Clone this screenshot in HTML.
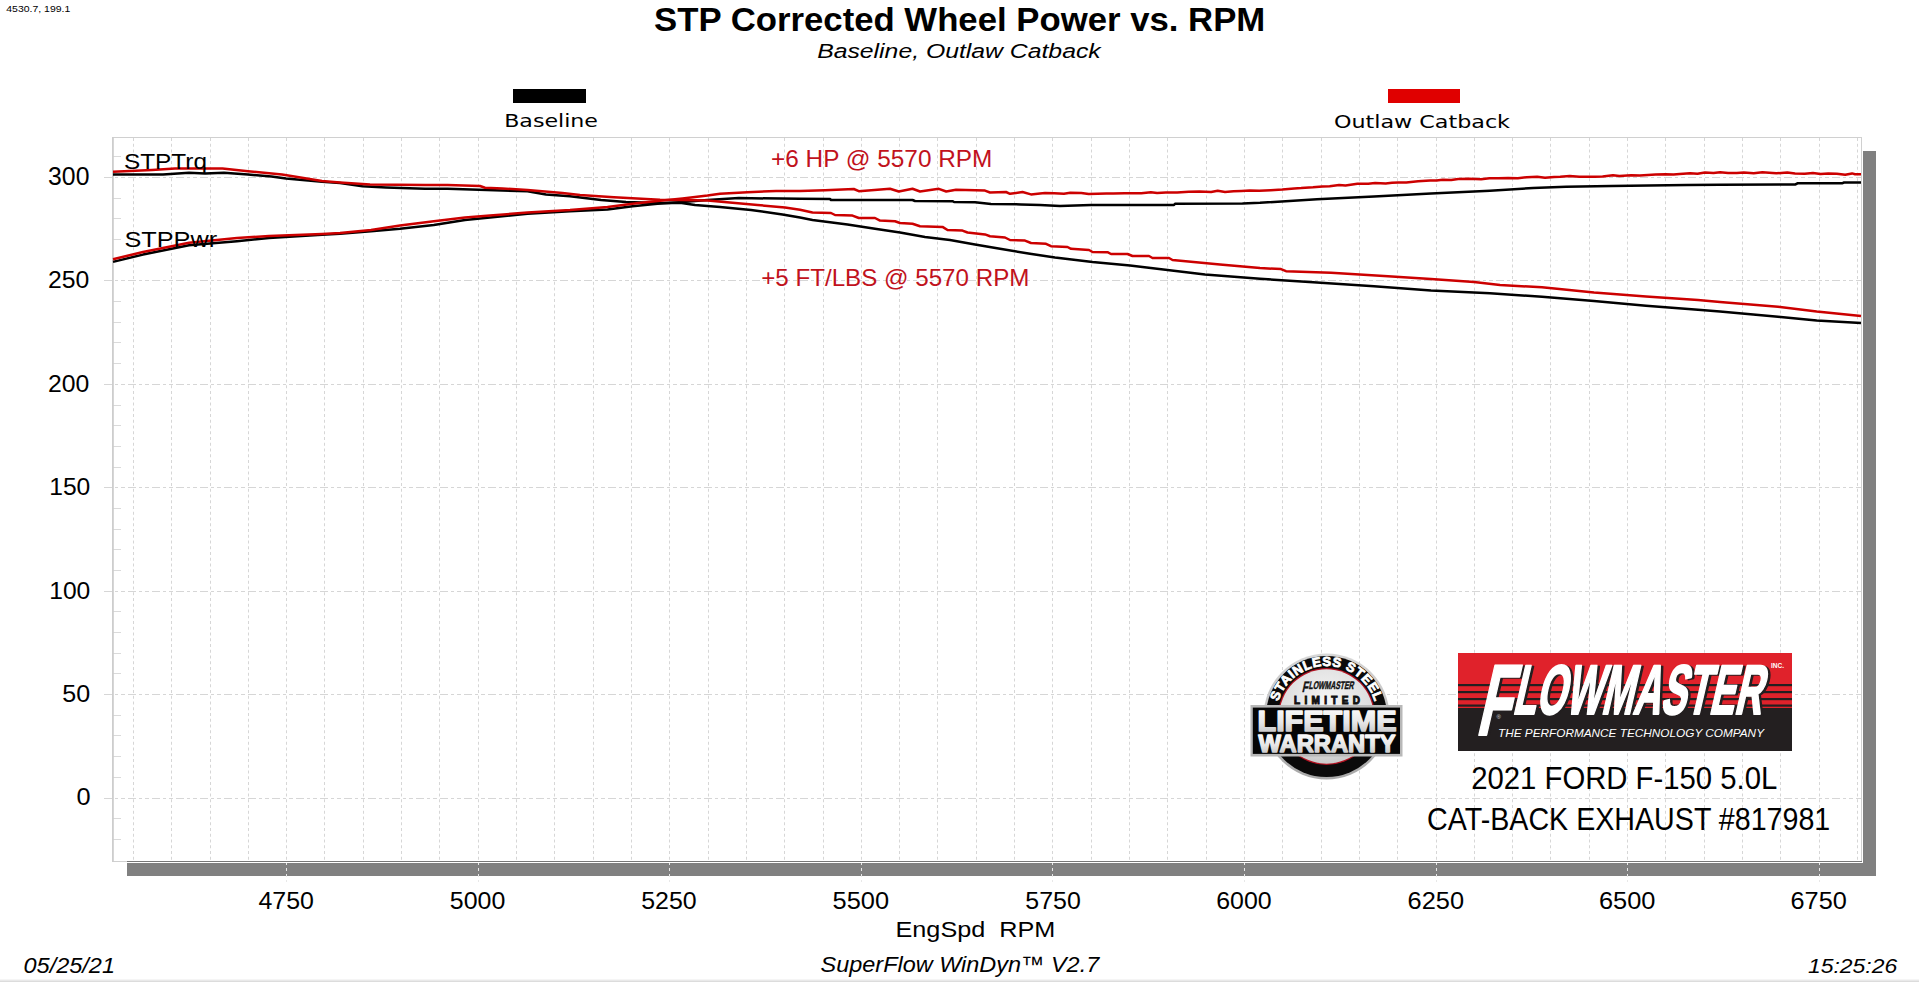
<!DOCTYPE html><html><head><meta charset="utf-8"><title>STP Corrected Wheel Power vs. RPM</title>
<style>html,body{margin:0;padding:0;background:#fff;overflow:hidden}svg{display:block}</style></head><body>
<svg width="1919" height="982" viewBox="0 0 1919 982">
<defs>
<linearGradient id="silver" x1="0" y1="0" x2="0" y2="1"><stop offset="0" stop-color="#ffffff"/><stop offset="0.55" stop-color="#e6e6e6"/><stop offset="1" stop-color="#bdbdbd"/></linearGradient>
<linearGradient id="silverh" x1="0" y1="0" x2="1" y2="0"><stop offset="0" stop-color="#f4f4f4"/><stop offset="0.5" stop-color="#e2e2e2"/><stop offset="1" stop-color="#f6f6f6"/></linearGradient>
<radialGradient id="disc" cx="0.5" cy="0.35" r="0.7"><stop offset="0" stop-color="#f6f6f6"/><stop offset="0.7" stop-color="#dcdcdc"/><stop offset="1" stop-color="#c4c4c4"/></radialGradient>
<linearGradient id="ring" x1="0" y1="0" x2="0" y2="1"><stop offset="0" stop-color="#d8d8d8"/><stop offset="1" stop-color="#a8a8a8"/></linearGradient>
</defs>
<rect x="0" y="0" width="1919" height="982" fill="#fff"/>
<rect x="0" y="979" width="1919" height="1" fill="#f5f5f5"/><rect x="0" y="980" width="1919" height="1" fill="#e9e9e9"/><rect x="0" y="981" width="1919" height="1" fill="#dcdcdc"/>
<rect x="127" y="151" width="1749" height="725" fill="#808080"/>
<rect x="112" y="137" width="1750" height="725" fill="#fff"/>
<path d="M133.5 138V861 M171.5 138V861 M210.5 138V861 M248.5 138V861 M286.5 138V861 M324.5 138V861 M363.5 138V861 M401.5 138V861 M439.5 138V861 M478.5 138V861 M516.5 138V861 M554.5 138V861 M593.5 138V861 M631.5 138V861 M669.5 138V861 M708.5 138V861 M746.5 138V861 M784.5 138V861 M823.5 138V861 M861.5 138V861 M899.5 138V861 M937.5 138V861 M976.5 138V861 M1014.5 138V861 M1052.5 138V861 M1091.5 138V861 M1129.5 138V861 M1167.5 138V861 M1206.5 138V861 M1244.5 138V861 M1282.5 138V861 M1321.5 138V861 M1359.5 138V861 M1397.5 138V861 M1436.5 138V861 M1474.5 138V861 M1512.5 138V861 M1550.5 138V861 M1589.5 138V861 M1627.5 138V861 M1665.5 138V861 M1704.5 138V861 M1742.5 138V861 M1780.5 138V861 M1819.5 138V861 M1857.5 138V861" stroke="#d6d6d6" stroke-width="1" stroke-dasharray="3 2.75" fill="none"/>
<path d="M104 798.5H1861 M104 694.5H1861 M104 591.5H1861 M104 487.5H1861 M104 384.5H1861 M104 280.5H1861 M104 177.5H1861" stroke="#d6d6d6" stroke-width="1" stroke-dasharray="8 3 3 3 4 3" fill="none"/>
<path d="M113 839.5H121 M113 818.5H121 M113 777.5H121 M113 756.5H121 M113 735.5H121 M113 715.5H121 M113 673.5H121 M113 653.5H121 M113 632.5H121 M113 611.5H121 M113 570.5H121 M113 549.5H121 M113 529.5H121 M113 508.5H121 M113 467.5H121 M113 446.5H121 M113 425.5H121 M113 405.5H121 M113 363.5H121 M113 342.5H121 M113 322.5H121 M113 301.5H121 M113 260.5H121 M113 239.5H121 M113 218.5H121 M113 198.5H121 M113 156.5H121" stroke="#dadada" stroke-width="1" fill="none"/>
<path d="M286.5 862V882 M478.5 862V882 M669.5 862V882 M861.5 862V882 M1052.5 862V882 M1244.5 862V882 M1436.5 862V882 M1627.5 862V882 M1819.5 862V882" stroke="#e8e8e8" stroke-width="1" stroke-dasharray="3 3" fill="none"/>
<rect x="112.5" y="137.5" width="1749" height="724" fill="none" stroke="#d0d0d0" stroke-width="1"/>
<rect x="127" y="861" width="1735" height="1" fill="#777"/><rect x="127" y="862" width="1736" height="1" fill="#fff"/><rect x="1862" y="151" width="1" height="712" fill="#fff"/>
<path d="M113 137V862" stroke="#cccccc" stroke-width="1.6"/>
<polyline points="113.0,174.5 163.0,174.5 189.0,172.8 205.0,173.6 224.0,172.8 248.0,174.5 271.5,176.5 286.0,178.5 322.0,181.8 340.0,183.1 362.5,186.2 386.0,187.5 425.0,188.8 447.5,188.8 478.8,189.8 502.5,190.6 527.5,191.2 546.0,194.4 570.0,196.2 601.0,200.0 626.0,201.9 657.5,203.0 680.0,202.8 695.0,205.0 720.0,206.9 751.0,210.0 782.5,214.4 800.0,217.5 812.5,220.0 847.5,224.4 875.0,228.8 900.0,232.5 925.0,236.9 950.0,240.0 975.0,244.4 1000.0,248.8 1030.0,253.8 1055.0,257.5 1092.5,262.0 1130.0,265.6 1167.5,270.0 1205.0,274.4 1260.0,278.8 1317.0,282.6 1374.0,286.2 1431.0,290.5 1490.0,293.3 1542.0,296.8 1594.0,301.1 1646.0,305.8 1698.0,309.8 1720.0,311.5 1778.0,316.8 1816.7,320.6 1861.0,323.1" fill="none" stroke="#000" stroke-width="2.5" stroke-linejoin="round"/>
<polyline points="113.0,261.9 143.0,254.6 189.0,245.3 237.0,241.3 269.0,238.0 322.0,234.7 340.0,233.8 371.0,231.2 400.0,228.8 433.8,225.0 465.0,220.0 490.0,217.5 527.5,213.8 570.0,211.2 607.5,209.4 632.5,206.2 657.5,203.8 682.5,201.9 707.5,200.0 738.8,198.1 800.0,198.8 830.0,199.0 831.0,200.0 912.5,200.0 915.0,201.0 952.5,201.2 954.0,202.0 975.0,202.2 991.0,204.0 1021.0,204.4 1040.0,205.0 1060.0,206.0 1091.0,205.0 1174.0,205.0 1175.0,203.8 1242.5,203.5 1260.0,202.8 1317.0,199.2 1374.0,196.4 1431.0,193.5 1490.0,190.8 1533.0,188.0 1566.0,186.8 1611.0,186.0 1687.0,185.1 1720.0,184.8 1795.5,184.4 1797.4,183.3 1842.0,183.3 1844.0,182.5 1861.0,182.5" fill="none" stroke="#000" stroke-width="2.5" stroke-linejoin="round"/>
<polyline points="113.0,171.8 152.0,169.9 175.0,168.5 222.5,168.5 248.0,171.2 282.0,174.5 322.0,181.0 340.0,182.5 370.0,184.4 425.0,185.0 447.5,185.0 480.0,186.0 485.0,187.8 502.5,188.5 527.5,190.0 562.5,193.0 580.0,195.0 614.0,197.2 660.0,199.8 682.5,200.0 707.5,200.6 732.5,202.8 757.5,205.0 785.0,207.5 800.0,209.8 812.5,212.5 831.0,213.0 835.0,215.0 852.5,215.6 858.8,218.0 875.0,218.0 880.0,220.6 895.0,221.2 900.0,223.0 912.5,223.8 920.0,226.2 942.5,226.9 947.5,230.0 962.5,230.6 967.5,232.5 985.0,234.4 990.0,236.2 1005.0,237.5 1010.0,240.0 1025.0,240.6 1031.0,243.0 1046.0,243.8 1051.0,246.2 1067.5,247.0 1071.0,248.8 1089.0,250.0 1092.5,252.0 1107.5,252.2 1111.0,254.0 1127.5,254.0 1132.5,256.0 1149.0,256.0 1152.5,258.0 1169.0,258.0 1172.5,260.0 1220.0,264.5 1260.0,268.0 1281.0,269.1 1286.0,271.2 1331.0,272.7 1388.0,276.2 1431.0,279.0 1474.0,282.0 1500.0,285.0 1542.0,287.3 1594.0,292.5 1646.0,296.5 1698.0,300.0 1720.0,301.9 1778.0,306.7 1816.7,311.5 1861.0,316.0" fill="none" stroke="#cc0000" stroke-width="2.5" stroke-linejoin="round"/>
<polyline points="113.0,259.2 143.0,252.0 189.0,242.7 237.0,238.0 269.0,236.0 322.0,234.0 340.0,233.0 371.0,230.0 400.0,225.6 433.8,221.2 465.0,217.5 490.0,215.6 527.5,212.5 570.0,210.0 607.5,206.9 632.5,203.8 657.5,201.0 682.5,198.5 707.5,195.6 720.0,193.8 747.5,192.2 776.0,191.0 800.0,191.0 825.0,190.2 853.8,189.0 858.8,191.2 890.0,188.8 898.8,191.5 912.5,188.8 920.0,191.5 938.8,188.8 946.2,191.5 956.0,189.8 985.0,190.6 990.0,192.5 1006.0,192.0 1010.0,193.8 1022.5,192.0 1031.0,194.4 1040.0,193.5 1045.0,193.1 1054.3,193.3 1063.9,193.7 1070.3,192.8 1081.3,193.1 1088.7,194.1 1097.5,193.8 1106.4,193.5 1113.3,193.4 1124.5,193.2 1135.0,193.2 1141.3,193.2 1150.9,192.3 1157.1,193.0 1165.9,192.6 1177.2,192.4 1188.7,191.7 1199.5,191.5 1211.1,192.0 1217.7,190.8 1225.0,191.9 1233.6,191.3 1241.4,191.0 1249.7,190.6 1259.3,190.8 1270.7,190.2 1282.3,189.6 1294.2,188.4 1301.2,188.1 1313.0,187.3 1322.4,186.4 1329.7,186.3 1339.1,185.0 1345.5,185.5 1357.4,183.7 1368.2,183.7 1375.1,183.1 1385.7,183.5 1392.0,182.8 1398.3,182.6 1406.3,182.5 1418.1,181.3 1430.1,180.5 1436.6,180.6 1442.8,179.7 1451.2,180.0 1458.2,178.9 1469.4,178.8 1481.1,179.2 1489.4,178.2 1498.5,178.2 1508.1,177.9 1517.8,178.2 1526.8,177.2 1537.2,176.7 1545.0,177.7 1554.1,177.0 1560.2,176.7 1569.7,176.0 1579.3,176.8 1585.7,176.8 1594.5,176.8 1602.6,176.6 1613.0,175.3 1619.4,176.1 1631.2,175.2 1639.9,175.5 1647.8,174.9 1655.7,174.6 1665.3,174.2 1673.6,174.5 1679.7,174.0 1690.1,173.2 1697.5,173.7 1704.9,172.5 1713.5,173.0 1720.1,172.2 1728.1,173.0 1736.8,173.1 1743.8,172.4 1753.7,173.3 1762.4,172.3 1769.1,172.8 1776.3,173.3 1787.3,172.5 1795.0,173.6 1804.8,173.7 1812.9,172.9 1820.6,174.0 1828.3,173.5 1836.8,173.7 1845.2,174.7 1852.1,173.4 1855.0,174.2 1861.0,174.2" fill="none" stroke="#cc0000" stroke-width="2.5" stroke-linejoin="round"/>
<text x="6.3" y="11.7" font-family="'Liberation Sans', Arial, Helvetica, sans-serif" font-size="9.77" font-weight="normal" font-style="normal" fill="#000" textLength="64.0" lengthAdjust="spacingAndGlyphs">4530.7, 199.1</text>
<text x="654.1" y="30.5" font-family="'Liberation Sans', Arial, Helvetica, sans-serif" font-size="33.37" font-weight="bold" font-style="normal" fill="#000" textLength="611.2" lengthAdjust="spacingAndGlyphs">STP Corrected Wheel Power vs. RPM</text>
<text x="817.2" y="58.0" font-family="'Liberation Sans', Arial, Helvetica, sans-serif" font-size="19.98" font-weight="normal" font-style="italic" fill="#000" textLength="283.5" lengthAdjust="spacingAndGlyphs">Baseline, Outlaw Catback</text>
<text x="504.2" y="126.6" font-family="'DejaVu Sans', 'Liberation Sans', sans-serif" font-size="18.43" font-weight="normal" font-style="normal" fill="#000" textLength="93.8" lengthAdjust="spacingAndGlyphs">Baseline</text>
<text x="1334.0" y="128.0" font-family="'DejaVu Sans', 'Liberation Sans', sans-serif" font-size="17.81" font-weight="normal" font-style="normal" fill="#000" textLength="176.0" lengthAdjust="spacingAndGlyphs">Outlaw Catback</text>
<text x="48.1" y="184.6" font-family="'Liberation Sans', Arial, Helvetica, sans-serif" font-size="25.42" font-weight="normal" font-style="normal" fill="#000" textLength="41.3" lengthAdjust="spacingAndGlyphs">300</text>
<text x="48.1" y="287.9" font-family="'Liberation Sans', Arial, Helvetica, sans-serif" font-size="23.37" font-weight="normal" font-style="normal" fill="#000" textLength="41.3" lengthAdjust="spacingAndGlyphs">250</text>
<text x="48.1" y="391.5" font-family="'Liberation Sans', Arial, Helvetica, sans-serif" font-size="23.37" font-weight="normal" font-style="normal" fill="#000" textLength="41.3" lengthAdjust="spacingAndGlyphs">200</text>
<text x="49.2" y="495.1" font-family="'Liberation Sans', Arial, Helvetica, sans-serif" font-size="23.49" font-weight="normal" font-style="normal" fill="#000" textLength="41.1" lengthAdjust="spacingAndGlyphs">150</text>
<text x="49.2" y="598.8" font-family="'Liberation Sans', Arial, Helvetica, sans-serif" font-size="23.49" font-weight="normal" font-style="normal" fill="#000" textLength="41.1" lengthAdjust="spacingAndGlyphs">100</text>
<text x="62.2" y="702.0" font-family="'Liberation Sans', Arial, Helvetica, sans-serif" font-size="23.61" font-weight="normal" font-style="normal" fill="#000" textLength="27.9" lengthAdjust="spacingAndGlyphs">50</text>
<text x="76.6" y="805.0" font-family="'Liberation Sans', Arial, Helvetica, sans-serif" font-size="23.05" font-weight="normal" font-style="normal" fill="#000" textLength="14.1" lengthAdjust="spacingAndGlyphs">0</text>
<text x="258.5" y="909.2" font-family="'Liberation Sans', Arial, Helvetica, sans-serif" font-size="23.54" font-weight="normal" font-style="normal" fill="#000" textLength="55.5" lengthAdjust="spacingAndGlyphs">4750</text>
<text x="449.8" y="909.2" font-family="'Liberation Sans', Arial, Helvetica, sans-serif" font-size="23.54" font-weight="normal" font-style="normal" fill="#000" textLength="55.5" lengthAdjust="spacingAndGlyphs">5000</text>
<text x="641.2" y="909.2" font-family="'Liberation Sans', Arial, Helvetica, sans-serif" font-size="23.54" font-weight="normal" font-style="normal" fill="#000" textLength="55.5" lengthAdjust="spacingAndGlyphs">5250</text>
<text x="832.6" y="909.2" font-family="'Liberation Sans', Arial, Helvetica, sans-serif" font-size="23.54" font-weight="normal" font-style="normal" fill="#000" textLength="56.5" lengthAdjust="spacingAndGlyphs">5500</text>
<text x="1025.3" y="909.2" font-family="'Liberation Sans', Arial, Helvetica, sans-serif" font-size="23.54" font-weight="normal" font-style="normal" fill="#000" textLength="55.5" lengthAdjust="spacingAndGlyphs">5750</text>
<text x="1216.2" y="909.2" font-family="'Liberation Sans', Arial, Helvetica, sans-serif" font-size="23.54" font-weight="normal" font-style="normal" fill="#000" textLength="55.5" lengthAdjust="spacingAndGlyphs">6000</text>
<text x="1407.6" y="909.2" font-family="'Liberation Sans', Arial, Helvetica, sans-serif" font-size="23.54" font-weight="normal" font-style="normal" fill="#000" textLength="56.5" lengthAdjust="spacingAndGlyphs">6250</text>
<text x="1599.0" y="909.2" font-family="'Liberation Sans', Arial, Helvetica, sans-serif" font-size="23.54" font-weight="normal" font-style="normal" fill="#000" textLength="56.5" lengthAdjust="spacingAndGlyphs">6500</text>
<text x="1790.5" y="909.2" font-family="'Liberation Sans', Arial, Helvetica, sans-serif" font-size="23.54" font-weight="normal" font-style="normal" fill="#000" textLength="56.3" lengthAdjust="spacingAndGlyphs">6750</text>
<text x="895.5" y="936.7" font-family="'Liberation Sans', Arial, Helvetica, sans-serif" font-size="22.31" font-weight="normal" font-style="normal" fill="#000" textLength="159.9" lengthAdjust="spacingAndGlyphs">EngSpd&#160;&#160;RPM</text>
<text x="23.5" y="973.2" font-family="'Liberation Sans', Arial, Helvetica, sans-serif" font-size="22.29" font-weight="normal" font-style="italic" fill="#000" textLength="91.5" lengthAdjust="spacingAndGlyphs">05/25/21</text>
<text x="820.6" y="971.6" font-family="'Liberation Sans', Arial, Helvetica, sans-serif" font-size="22.02" font-weight="normal" font-style="italic" fill="#000" textLength="278.6" lengthAdjust="spacingAndGlyphs">SuperFlow WinDyn™ V2.7</text>
<text x="1808.0" y="972.7" font-family="'Liberation Sans', Arial, Helvetica, sans-serif" font-size="20.37" font-weight="normal" font-style="italic" fill="#000" textLength="89.2" lengthAdjust="spacingAndGlyphs">15:25:26</text>
<text x="123.9" y="169.1" font-family="'Liberation Sans', Arial, Helvetica, sans-serif" font-size="22.87" font-weight="normal" font-style="normal" fill="#000" textLength="83.1" lengthAdjust="spacingAndGlyphs">STPTrq</text>
<text x="124.4" y="246.6" font-family="'Liberation Sans', Arial, Helvetica, sans-serif" font-size="21.53" font-weight="normal" font-style="normal" fill="#000" textLength="92.8" lengthAdjust="spacingAndGlyphs">STPPwr</text>
<text x="771.0" y="166.5" font-family="'Liberation Sans', Arial, Helvetica, sans-serif" font-size="23.84" font-weight="normal" font-style="normal" fill="#c1121c" textLength="221.4" lengthAdjust="spacingAndGlyphs">+6 HP @ 5570 RPM</text>
<text x="761.2" y="285.5" font-family="'Liberation Sans', Arial, Helvetica, sans-serif" font-size="24.04" font-weight="normal" font-style="normal" fill="#c1121c" textLength="268.2" lengthAdjust="spacingAndGlyphs">+5 FT/LBS @ 5570 RPM</text>
<text x="1471.2" y="789.0" font-family="'Liberation Sans', Arial, Helvetica, sans-serif" font-size="31.16" font-weight="normal" font-style="normal" fill="#000" textLength="306.1" lengthAdjust="spacingAndGlyphs">2021 FORD F-150 5.0L</text>
<text x="1427.1" y="830.3" font-family="'Liberation Sans', Arial, Helvetica, sans-serif" font-size="31.71" font-weight="normal" font-style="normal" fill="#000" textLength="403.2" lengthAdjust="spacingAndGlyphs">CAT-BACK EXHAUST #817981</text>
<rect x="513" y="89" width="73" height="14" fill="#000"/>
<rect x="1388" y="89" width="72" height="14" fill="#e00000"/>
<rect x="1458" y="653" width="334" height="98" fill="#231f20"/>
<rect x="1458" y="653" width="334" height="55" fill="#e0222b"/>
<rect x="1458" y="684" width="334" height="2.2" fill="#231f20"/>
<rect x="1458" y="691" width="334" height="2.2" fill="#231f20"/>
<rect x="1458" y="698" width="334" height="2.2" fill="#231f20"/>
<rect x="1458" y="704.5" width="334" height="2.2" fill="#231f20"/>
<text transform="translate(2.5,715) skewX(-13)" font-family="'Liberation Sans', Arial, Helvetica, sans-serif" font-weight="bold" fill="#231f20" stroke="#231f20" stroke-width="2.2" stroke-linejoin="round"><tspan x="1480" y="21" font-size="101" textLength="33" lengthAdjust="spacingAndGlyphs">F</tspan><tspan x="1512" y="0" font-size="70" textLength="249" lengthAdjust="spacingAndGlyphs">LOWMASTER</tspan></text>
<text transform="translate(0,714) skewX(-13)" font-family="'Liberation Sans', Arial, Helvetica, sans-serif" font-weight="bold" fill="#ffffff" stroke="#ffffff" stroke-width="2.2" stroke-linejoin="round"><tspan x="1480" y="21" font-size="101" textLength="33" lengthAdjust="spacingAndGlyphs">F</tspan><tspan x="1512" y="0" font-size="70" textLength="249" lengthAdjust="spacingAndGlyphs">LOWMASTER</tspan></text>
<text x="1771" y="668" font-family="'Liberation Sans', Arial, Helvetica, sans-serif" font-size="6.5" fill="#fff" text-anchor="start" font-weight="bold" font-style="normal" >INC.</text>
<text x="1496.5" y="719" font-family="'Liberation Sans', Arial, Helvetica, sans-serif" font-size="6" fill="#ddd" text-anchor="start" font-weight="normal" font-style="normal" >®</text>
<text x="1498" y="737" font-family="'Liberation Sans', Arial, Helvetica, sans-serif" font-style="italic" font-size="11.5" fill="#fff" textLength="266" lengthAdjust="spacingAndGlyphs">THE PERFORMANCE TECHNOLOGY COMPANY</text>
<circle cx="1326.5" cy="716.5" r="63" fill="url(#ring)"/>
<circle cx="1326.5" cy="716.5" r="60.5" fill="#0a0a0a"/>
<circle cx="1326.5" cy="716.5" r="48.5" fill="#b01020"/>
<circle cx="1326.5" cy="716.5" r="47.2" fill="url(#disc)"/>
<path id="arc" d="M1276.0,716.5 A50.5,50.5 0 0,1 1377.0,716.5" fill="none"/>
<text font-family="'Liberation Sans', Arial, Helvetica, sans-serif" font-weight="bold" font-size="13.2" fill="#fff" stroke="#fff" stroke-width="0.8"><textPath href="#arc" startOffset="50%" text-anchor="middle" textLength="128" lengthAdjust="spacing">STAINLESS STEEL</textPath></text>
<text transform="translate(0,688.5) skewX(-12)" font-family="'Liberation Sans', Arial, Helvetica, sans-serif" font-weight="bold" fill="#111" stroke="#111" stroke-width="0.45"><tspan x="1302.5" y="3" font-size="15" textLength="6" lengthAdjust="spacingAndGlyphs">F</tspan><tspan x="1308.5" y="0" font-size="11" textLength="45" lengthAdjust="spacingAndGlyphs">LOWMASTER</tspan></text>
<text x="1327" y="704" font-family="'Liberation Sans', Arial, Helvetica, sans-serif" font-weight="bold" font-size="10" fill="#111" stroke="#111" stroke-width="0.9" text-anchor="middle" textLength="66" lengthAdjust="spacing">LIMITED</text>
<rect x="1250.5" y="705" width="152" height="51.5" fill="#b8b8b8"/>
<rect x="1252.8" y="707.6" width="147.2" height="46.3" fill="#050505"/>
<text x="1327" y="731" font-family="'Liberation Sans', Arial, Helvetica, sans-serif" font-weight="bold" font-size="29" fill="url(#silver)" stroke="url(#silver)" stroke-width="1.6" stroke-linejoin="round" text-anchor="middle" textLength="139" lengthAdjust="spacingAndGlyphs">LIFETIME</text>
<text x="1327" y="752" font-family="'Liberation Sans', Arial, Helvetica, sans-serif" font-weight="bold" font-size="23.5" fill="url(#silver)" stroke="url(#silver)" stroke-width="1.4" stroke-linejoin="round" text-anchor="middle" textLength="137" lengthAdjust="spacingAndGlyphs">WARRANTY</text>
</svg></body></html>
